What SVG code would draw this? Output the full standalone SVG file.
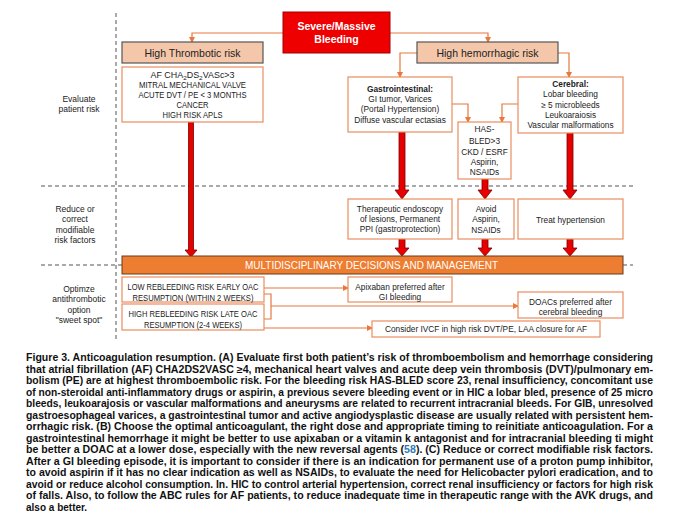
<svg xmlns="http://www.w3.org/2000/svg" width="680" height="527" viewBox="0 0 680 527">
<style>
.t{font-family:"Liberation Sans",Arial,sans-serif;fill:#222;text-anchor:middle}
.s8{font-size:8.3px}
.b{font-weight:bold}
.hdr{fill:#f5c7aa;stroke:#555;stroke-width:1.2}
.box{fill:#fff;stroke:#ea8c5e;stroke-width:1.2}
.dash{stroke:#555;stroke-width:1;stroke-dasharray:4 3;fill:none}
.con{stroke:#e8783c;stroke-width:1.2;fill:none}
.red{fill:#e60000;stroke:#7a0000;stroke-width:0.8}
.cap{font-family:"Liberation Sans",Arial,sans-serif;font-size:10px;font-weight:bold;fill:#111}
.lab{font-family:"Liberation Sans",Arial,sans-serif;font-size:8.5px;fill:#222;text-anchor:middle}
</style>
<defs>
<marker id="oa" markerWidth="6" markerHeight="6" refX="5" refY="3" orient="auto" markerUnits="userSpaceOnUse">
<path d="M0,0 L6,3 L0,6 z" fill="#e8783c"/>
</marker>
</defs>
<rect width="680" height="527" fill="#fff"/>

<g id="grid">
<path class="dash" d="M116,13 V342"/>
<path class="dash" d="M41,186 H633"/>
<path class="dash" d="M41,265 H122 M623,265 H633"/>
</g>

<g id="labels">
<text class="lab" x="79" y="102">Evaluate</text>
<text class="lab" x="79" y="112">patient risk</text>
<text class="lab" x="75" y="212">Reduce or</text>
<text class="lab" x="75" y="222">correct</text>
<text class="lab" x="75" y="233">modifiable</text>
<text class="lab" x="75" y="243">risk factors</text>
<text class="lab" x="79" y="292">Optimze</text>
<text class="lab" x="79" y="302">antithrombotic</text>
<text class="lab" x="79" y="313">option</text>
<text class="lab" x="79" y="323">"sweet spot"</text>
</g>

<g id="connectors">
<path class="con" d="M283,33 H192 V42" marker-end="url(#oa)"/>
<path class="con" d="M390,33 H488 V42" marker-end="url(#oa)"/>
<path class="con" d="M417,53 H400 V77" marker-end="url(#oa)"/>
<path class="con" d="M558,53 H569 V77" marker-end="url(#oa)"/>
<path class="con" d="M452,104 H468 V122" marker-end="url(#oa)"/>
<path class="con" d="M518,104 H502 V122" marker-end="url(#oa)"/>
<path class="con" d="M264,288 H348" marker-end="url(#oa)"/>
<path class="con" d="M264,294 H271 V319 H264"/>
<path class="con" d="M271,306 H518" marker-end="url(#oa)"/>
<path class="con" d="M264,328 H372" marker-end="url(#oa)"/>
<polygon class="red" points="188.5,122 193.5,122 193.5,250 197,250 191,257 185,250 188.5,250"/>
<polygon class="red" points="399,132 405,132 405,190 409,190 402,199 395,190 399,190"/>
<polygon class="red" points="482,179 488,179 488,190 492,190 485,199 478,190 482,190"/>
<polygon class="red" points="567,133 573,133 573,190 577,190 570,199 563,190 567,190"/>
<polygon class="red" points="399,239 405,239 405,248 409,248 402,256 395,248 399,248"/>
<polygon class="red" points="482,239 488,239 488,248 492,248 485,256 478,248 482,248"/>
<polygon class="red" points="567,239 573,239 573,248 577,248 570,256 563,248 567,248"/>
</g>

<g id="severe">
<rect x="283" y="12" width="107" height="41" fill="#ee0000" stroke="#a00000" stroke-width="1"/>
<text class="t b" x="336.5" y="30" style="fill:#fff;font-size:10.5px">Severe/Massive</text>
<text class="t b" x="336.5" y="43" style="fill:#fff;font-size:10.5px">Bleeding</text>
</g>

<g id="thrombotic">
<rect class="hdr" x="122" y="42" width="141" height="21"/>
<text class="t" x="192.5" y="56.5" style="font-size:10.5px">High Thrombotic risk</text>
</g>

<g id="thrombotic-list">
<rect class="box" x="122" y="67" width="141" height="55"/>
<text class="t s8" x="192.5" y="78" textLength="84" lengthAdjust="spacingAndGlyphs">AF CHA<tspan font-size="6" dy="2">2</tspan><tspan dy="-2">DS</tspan><tspan font-size="6" dy="2">2</tspan><tspan dy="-2">VASc&gt;3</tspan></text>
<text class="t s8" x="192.5" y="88" textLength="107" lengthAdjust="spacingAndGlyphs">MITRAL MECHANICAL VALVE</text>
<text class="t s8" x="192.5" y="98" textLength="108" lengthAdjust="spacingAndGlyphs">ACUTE DVT / PE &lt; 3 MONTHS</text>
<text class="t s8" x="192.5" y="108" textLength="32" lengthAdjust="spacingAndGlyphs">CANCER</text>
<text class="t s8" x="192.5" y="118" textLength="60" lengthAdjust="spacingAndGlyphs">HIGH RISK APLS</text>
</g>

<g id="hemorrhagic">
<rect class="hdr" x="417" y="42" width="141" height="21"/>
<text class="t" x="487.5" y="56.5" style="font-size:10.5px">High hemorrhagic risk</text>
</g>

<g id="gastro">
<rect class="box" x="348" y="77" width="104" height="55"/>
<text class="t s8 b" x="400" y="92">Gastrointestinal:</text>
<text class="t s8" x="400" y="102">GI tumor, Varices</text>
<text class="t s8" x="400" y="112">(Portal Hypertension)</text>
<text class="t s8" x="400" y="123">Diffuse vascular ectasias</text>
</g>

<g id="cerebral">
<rect class="box" x="518" y="77" width="105" height="56"/>
<text class="t s8 b" x="570.5" y="87">Cerebral:</text>
<text class="t s8" x="570.5" y="97">Lobar bleeding</text>
<text class="t s8" x="570.5" y="108">≥ 5 microbleeds</text>
<text class="t s8" x="570.5" y="118">Leukoaraiosis</text>
<text class="t s8" x="570.5" y="128">Vascular malformations</text>
</g>

<g id="hasbled">
<rect class="box" x="458" y="122" width="53" height="57"/>
<text class="t s8" x="484.5" y="132">HAS-</text>
<text class="t s8" x="484.5" y="144">BLED&gt;3</text>
<text class="t s8" x="484.5" y="155">CKD / ESRF</text>
<text class="t s8" x="484.5" y="165">Aspirin,</text>
<text class="t s8" x="484.5" y="175">NSAIDs</text>
</g>

<g id="endoscopy">
<rect class="box" x="348" y="199" width="104" height="40"/>
<text class="t s8" x="400" y="212">Therapeutic endoscopy</text>
<text class="t s8" x="400" y="222">of lesions, Permanent</text>
<text class="t s8" x="400" y="232">PPI (gastroprotection)</text>
</g>

<g id="avoid">
<rect class="box" x="458" y="199" width="56" height="40"/>
<text class="t s8" x="486" y="212">Avoid</text>
<text class="t s8" x="486" y="222">Aspirin,</text>
<text class="t s8" x="486" y="233">NSAIDs</text>
</g>

<g id="treat">
<rect class="box" x="518" y="199" width="105" height="40"/>
<text class="t s8" x="570.5" y="223">Treat hypertension</text>
</g>

<g id="multi">
<rect x="122" y="256" width="501" height="18" fill="#ed7d31" stroke="#6b3a1a" stroke-width="1"/>
<text class="t" x="371.5" y="269" style="fill:#fff;font-size:10px" textLength="253" lengthAdjust="spacingAndGlyphs">MULTIDISCIPLINARY DECISIONS AND MANAGEMENT</text>
</g>

<g id="low">
<rect class="box" x="122" y="277" width="142" height="25"/>
<text class="t s8" x="193" y="290" textLength="131" lengthAdjust="spacingAndGlyphs">LOW REBLEEDING RISK EARLY OAC</text>
<text class="t s8" x="193" y="300.5" textLength="121" lengthAdjust="spacingAndGlyphs">RESUMPTION (WITHIN 2 WEEKS)</text>
</g>

<g id="high">
<rect class="box" x="122" y="304" width="142" height="26"/>
<text class="t s8" x="193" y="317" textLength="129" lengthAdjust="spacingAndGlyphs">HIGH REBLEEDING RISK LATE OAC</text>
<text class="t s8" x="193" y="327.5" textLength="98" lengthAdjust="spacingAndGlyphs">RESUMPTION (2-4 WEEKS)</text>
</g>

<g id="apixaban">
<rect class="box" x="348" y="277" width="104" height="25"/>
<text class="t s8" x="400" y="290">Apixaban preferred after</text>
<text class="t s8" x="400" y="300">GI bleeding</text>
</g>

<g id="doacs">
<rect class="box" x="518" y="292" width="105" height="26"/>
<text class="t s8" x="570.5" y="305">DOACs preferred after</text>
<text class="t s8" x="570.5" y="315">cerebral bleeding</text>
</g>

<g id="consider">
<rect class="box" x="372" y="321" width="228" height="16"/>
<text class="t s8" x="486" y="332" textLength="202" lengthAdjust="spacingAndGlyphs">Consider IVCF in high risk DVT/PE, LAA closure for AF</text>
</g>

<g id="caption">
<text class="cap" x="26" y="361" textLength="627" lengthAdjust="spacingAndGlyphs">Figure 3. Anticoagulation resumption. (A) Evaluate first both patient’s risk of thromboembolism and hemorrhage considering</text>
<text class="cap" x="26" y="372.5" textLength="627" lengthAdjust="spacingAndGlyphs">that atrial fibrillation (AF) CHA2DS2VASC ≥4, mechanical heart valves and acute deep vein thrombosis (DVT)/pulmonary em-</text>
<text class="cap" x="26" y="384" textLength="627" lengthAdjust="spacingAndGlyphs">bolism (PE) are at highest thromboembolic risk. For the bleeding risk HAS-BLED score 23, renal insufficiency, concomitant use</text>
<text class="cap" x="26" y="395.5" textLength="627" lengthAdjust="spacingAndGlyphs">of non-steroidal anti-inflammatory drugs or aspirin, a previous severe bleeding event or in HIC a lobar bled, presence of 25 micro</text>
<text class="cap" x="26" y="407" textLength="627" lengthAdjust="spacingAndGlyphs">bleeds, leukoarajosis or vascular malformations and aneurysms are related to recurrent intracranial bleeds. For GIB, unresolved</text>
<text class="cap" x="26" y="418.5" textLength="627" lengthAdjust="spacingAndGlyphs">gastroesophageal varices, a gastrointestinal tumor and active angiodysplastic disease are usually related with persistent hem-</text>
<text class="cap" x="26" y="430" textLength="627" lengthAdjust="spacingAndGlyphs">orrhagic risk. (B) Choose the optimal anticoagulant, the right dose and appropriate timing to reinitiate anticoagulation. For a</text>
<text class="cap" x="26" y="441.5" textLength="627" lengthAdjust="spacingAndGlyphs">gastrointestinal hemorrhage it might be better to use apixaban or a vitamin k antagonist and for intracranial bleeding ti might</text>
<text class="cap" x="26" y="453" textLength="627" lengthAdjust="spacingAndGlyphs">be better a DOAC at a lower dose, especially with the new reversal agents (<tspan fill="#2b7bb9">58</tspan>). (C) Reduce or correct modifiable risk factors.</text>
<text class="cap" x="26" y="464.5" textLength="627" lengthAdjust="spacingAndGlyphs">After a GI bleeding episode, it is important to consider if there is an indication for permanent use of a proton pump inhibitor,</text>
<text class="cap" x="26" y="476" textLength="627" lengthAdjust="spacingAndGlyphs">to avoid aspirin if it has no clear indication as well as NSAIDs, to evaluate the need for Helicobacter pylori eradication, and to</text>
<text class="cap" x="26" y="487.5" textLength="627" lengthAdjust="spacingAndGlyphs">avoid or reduce alcohol consumption. In. HIC to control arterial hypertension, correct renal insufficiency or factors for high risk</text>
<text class="cap" x="26" y="499" textLength="627" lengthAdjust="spacingAndGlyphs">of falls. Also, to follow the ABC rules for AF patients, to reduce inadequate time in therapeutic range with the AVK drugs, and</text>
<text class="cap" x="26" y="510.5">also a better.</text>
</g>
</svg>
